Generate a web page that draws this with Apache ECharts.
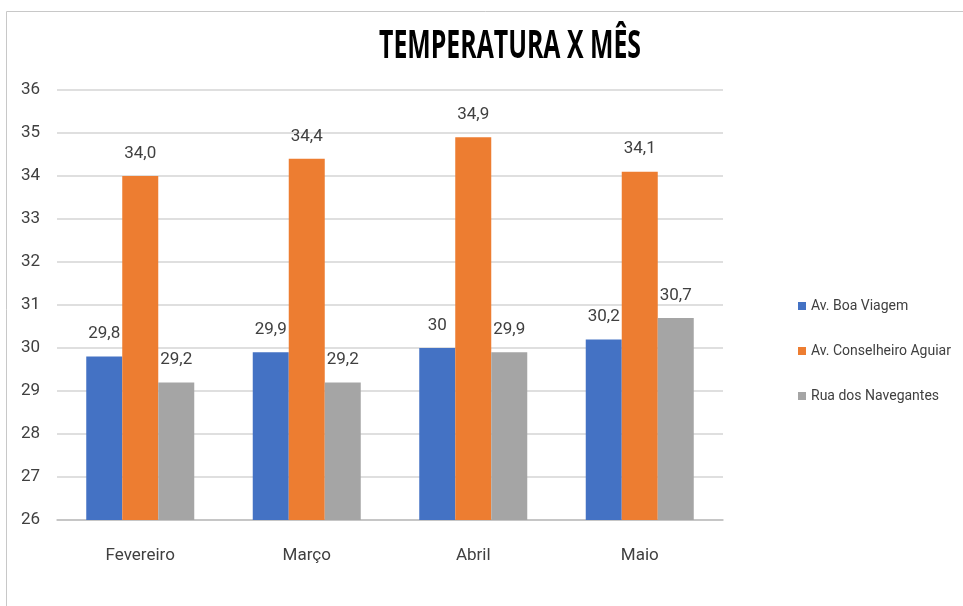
<!DOCTYPE html>
<html>
<head>
<meta charset="utf-8">
<script src="https://cdn.jsdelivr.net/npm/echarts@6/dist/echarts.min.js"></script>
<style>
  html, body { margin: 0; padding: 0; background: #fff; }
  #chart { width: 963px; height: 606px; }
</style>
</head>
<body>
<div id="chart"></div>
<script>
// Average temperature per month at three streets
const months = ['Fevereiro', 'Março', 'Abril', 'Maio'];
const boaViagem = [29.8, 29.9, 30, 30.2];
const conselheiroAguiar = [34.0, 34.4, 34.9, 34.1];
const ruaNavegantes = [29.2, 29.2, 29.9, 30.7];
const seriesNames = ['Av. Boa Viagem', 'Av. Conselheiro Aguiar', 'Rua dos Navegantes'];
const yTicks = [26, 27, 28, 29, 30, 31, 32, 33, 34, 35, 36];
const chartTitle = 'TEMPERATURA X MÊS';

const FONT = "'Liberation Sans Narrow', Roboto, sans-serif";
const TEXT = '#404040';

const commaPlain = v => String(v.value).replace('.', ',');
const commaFixed = v => v.value.toFixed(1).replace('.', ',');

// Title drawn as a horizontally condensed bold heading
const titleFont = "bold 40px 'Open Sans', Roboto, sans-serif";
const ctx = document.createElement('canvas').getContext('2d');
ctx.font = titleFont;
const titleScale = 262 / ctx.measureText(chartTitle).width;

function barSeries(name, data, color, fmt) {
  return {
    name: name,
    type: 'bar',
    data: data,
    barWidth: 36,
    barGap: '0%',
    itemStyle: { color: color },
    label: {
      show: true,
      position: 'top',
      distance: 14,
      color: TEXT,
      fontFamily: FONT,
      fontSize: 17,
      formatter: fmt
    }
  };
}

const chart = echarts.init(document.getElementById('chart'), null, { renderer: 'canvas' });
chart.setOption({
  backgroundColor: '#fff',
  animation: false,
  graphic: [{
    type: 'rect',
    shape: { x: 6.5, y: 11.5, width: 1000, height: 700 },
    style: { fill: 'none', stroke: '#c8c8c8', lineWidth: 1 },
    silent: true
  }, {
    type: 'text',
    x: 510,
    y: 47,
    scaleX: titleScale,
    silent: true,
    style: {
      text: chartTitle,
      font: titleFont,
      fill: '#000',
      textAlign: 'center',
      textVerticalAlign: 'middle'
    }
  }],
  legend: {
    orient: 'vertical',
    left: 793,
    top: 294,
    itemWidth: 8,
    itemHeight: 8,
    itemGap: 31,
    icon: 'rect',
    textStyle: { fontFamily: FONT, fontSize: 14, color: TEXT },
    data: seriesNames
  },
  grid: { left: 57, right: 240, top: 90, bottom: 86, containLabel: false },
  xAxis: {
    type: 'category',
    data: months,
    axisLine: { lineStyle: { color: '#bfbfbf', width: 1.5 } },
    axisTick: { show: false },
    axisLabel: { color: TEXT, fontFamily: FONT, fontSize: 17, margin: 27 }
  },
  yAxis: {
    type: 'value',
    min: yTicks[0],
    max: yTicks[yTicks.length - 1],
    interval: 1,
    axisLine: { show: false },
    axisTick: { show: false },
    splitLine: { lineStyle: { color: '#d4d4d4', width: 1.5 } },
    axisLabel: { color: TEXT, fontFamily: FONT, fontSize: 17, margin: 17 }
  },
  series: [
    barSeries(seriesNames[0], boaViagem, '#4472C4', commaPlain),
    barSeries(seriesNames[1], conselheiroAguiar, '#ED7D31', commaFixed),
    barSeries(seriesNames[2], ruaNavegantes, '#A5A5A5', commaPlain)
  ]
});
</script>
</body>
</html>
